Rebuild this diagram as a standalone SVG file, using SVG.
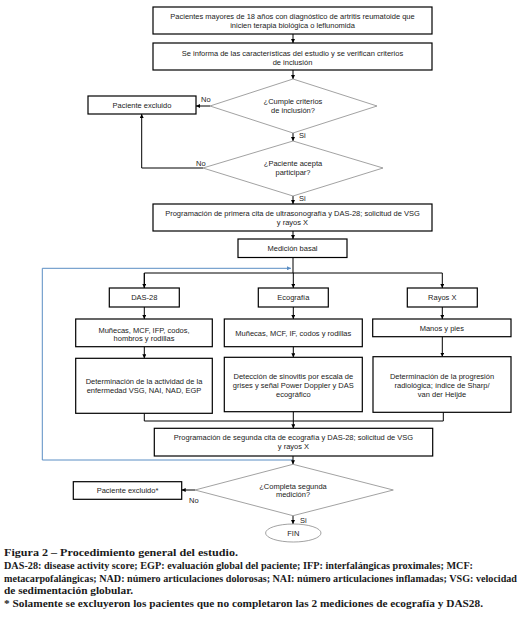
<svg xmlns="http://www.w3.org/2000/svg" width="521" height="628" viewBox="0 0 521 628">
<defs>
<marker id="ah" viewBox="0 0 10 10" refX="10" refY="5" markerWidth="4" markerHeight="4" orient="auto" markerUnits="userSpaceOnUse"><path d="M0,0 L10,5 L0,10 z" fill="#000"/></marker>
<marker id="ahb" viewBox="0 0 10 10" refX="10" refY="5" markerWidth="5" markerHeight="4" orient="auto" markerUnits="userSpaceOnUse"><path d="M0,0 L10,5 L0,10 z" fill="#5b8ec4"/></marker>
<style>
.box{fill:#fff;stroke:#000;stroke-width:1.2}
.dia{fill:#fff;stroke:#8a8a8a;stroke-width:0.8}
.t{font-family:"Liberation Sans",Arial,sans-serif;font-size:7.5px;fill:#222;text-anchor:middle}
.lbl{font-family:"Liberation Sans",Arial,sans-serif;font-size:7.5px;fill:#222}
.c{fill:none;stroke:#000;stroke-width:1}
.cb{fill:none;stroke:#5b8ec4;stroke-width:1}
.cap{font-family:"Liberation Serif","Times New Roman",serif;font-size:10px;font-weight:bold;fill:#1a1a1a}
</style>
</defs>
<rect width="521" height="628" fill="#fff"/>

<g id="connectors">
<path class="c" d="M293,34 V43" marker-end="url(#ah)"/>
<path class="c" d="M293,70 V79" marker-end="url(#ah)"/>
<path class="c" d="M210,106 H196" marker-end="url(#ah)"/>
<path class="c" d="M293,133 V141" marker-end="url(#ah)"/>
<path class="c" d="M203,168 H141.7 V114" marker-end="url(#ah)"/>
<path class="c" d="M293,196 V204" marker-end="url(#ah)"/>
<path class="c" d="M293,231 V239" marker-end="url(#ah)"/>
<path class="c" d="M293,257.5 V273"/>
<path class="c" d="M144.3,288 V273 H442.3 V288" marker-end="url(#ah)"/>
<path class="c" d="M144.3,273 V288" marker-end="url(#ah)"/>
<path class="c" d="M293.3,273 V288" marker-end="url(#ah)"/>
<path class="c" d="M144.3,307 V319" marker-end="url(#ah)"/>
<path class="c" d="M293.3,307 V319" marker-end="url(#ah)"/>
<path class="c" d="M442.3,307 V319" marker-end="url(#ah)"/>
<path class="c" d="M144.3,346.7 V358.3" marker-end="url(#ah)"/>
<path class="c" d="M293.3,346.7 V357.3" marker-end="url(#ah)"/>
<path class="c" d="M442.3,336.7 V356.7" marker-end="url(#ah)"/>
<path class="c" d="M144.3,413.3 V421 H443.3 V412.3"/>
<path class="c" d="M293.3,411.7 V428.3" marker-end="url(#ah)"/>
<path class="cb" d="M293,460 H42.3 V268.3 H291" marker-end="url(#ahb)"/>
<path class="c" d="M293,456 V464.3" marker-end="url(#ah)"/>
<path class="c" d="M195,490 H181.7" marker-end="url(#ah)"/>
<path class="c" d="M293,515.7 V524" marker-end="url(#ah)"/>
<text class="lbl" x="201" y="102">No</text>
<text class="lbl" x="299" y="138">Si</text>
<text class="lbl" x="196" y="165.5">No</text>
<text class="lbl" x="299" y="201">Si</text>
<text class="lbl" x="189" y="502.5">No</text>
<text class="lbl" x="300" y="522.5">Si</text>
</g>

<g id="n1"><rect class="box" x="153" y="7" width="279" height="27"/>
<text class="t" x="292.5" y="18.5">Pacientes mayores de 18 años con diagnóstico de artritis reumatoide que</text>
<text class="t" x="292.5" y="27.5">inicien terapia biológica o leflunomida</text></g>

<g id="n2"><rect class="box" x="153" y="43" width="279" height="27"/>
<text class="t" x="292.5" y="55.5">Se informa de las características del estudio y se verifican criterios</text>
<text class="t" x="292.5" y="64.5">de inclusión</text></g>

<g id="d1"><polygon class="dia" points="293,79 377,106 293,133 210,106"/>
<text class="t" x="293" y="104">¿Cumple criterios</text>
<text class="t" x="293" y="113">de inclusión?</text></g>

<g id="ex1"><rect class="box" x="88" y="96" width="108" height="18"/>
<text class="t" x="142" y="107.7">Paciente excluido</text></g>

<g id="d2"><polygon class="dia" points="293,141 383,168 293,196 203,168"/>
<text class="t" x="293" y="165.5">¿Paciente acepta</text>
<text class="t" x="293" y="174.5">participar?</text></g>

<g id="n3"><rect class="box" x="153" y="204" width="279" height="27"/>
<text class="t" x="292.5" y="215.5">Programación de primera cita de ultrasonografía y DAS-28; solicitud de VSG</text>
<text class="t" x="292.5" y="224.5">y rayos X</text></g>

<g id="n4"><rect class="box" x="238" y="239" width="109" height="18.5"/>
<text class="t" x="292.5" y="251">Medición basal</text></g>

<g id="das"><rect class="box" x="109.3" y="288" width="70" height="19"/>
<text class="t" x="144.3" y="300.2">DAS-28</text></g>
<g id="eco"><rect class="box" x="258.3" y="288" width="70" height="19"/>
<text class="t" x="293.3" y="300.2">Ecografía</text></g>
<g id="rx"><rect class="box" x="407.3" y="288" width="70" height="19"/>
<text class="t" x="442.3" y="300.2">Rayos X</text></g>

<g id="das2"><rect class="box" x="75.7" y="319" width="136.6" height="27.7"/>
<text class="t" x="144" y="332.5">Muñecas, MCF, IFP, codos,</text>
<text class="t" x="144" y="341">hombros y rodillas</text></g>
<g id="eco2"><rect class="box" x="224.3" y="319" width="138" height="27.7"/>
<text class="t" x="293.3" y="335.8">Muñecas, MCF, IF, codos y rodillas</text></g>
<g id="rx2"><rect class="box" x="372.7" y="319" width="138.3" height="17.7"/>
<text class="t" x="441.8" y="330.7">Manos y pies</text></g>

<g id="das3"><rect class="box" x="75.7" y="358.3" width="136.6" height="55"/>
<text class="t" x="144" y="384">Determinación de la actividad de la</text>
<text class="t" x="144" y="392.5">enfermedad VSG, NAI, NAD, EGP</text></g>
<g id="eco3"><rect class="box" x="224.3" y="357.3" width="138" height="54.4"/>
<text class="t" x="293.3" y="378.5">Detección de sinovitis por escala de</text>
<text class="t" x="293.3" y="387.5">grises y señal Power Doppler y DAS</text>
<text class="t" x="293.3" y="396.5">ecográfico</text></g>
<g id="rx3"><rect class="box" x="373" y="356.7" width="138" height="55.6"/>
<text class="t" x="442" y="379">Determinación de la progresión</text>
<text class="t" x="442" y="388">radiológica; índice de Sharp/</text>
<text class="t" x="442" y="397">van der Heijde</text></g>

<g id="n5"><rect class="box" x="154.3" y="428.3" width="278.4" height="27.7"/>
<text class="t" x="293.5" y="440">Programación de segunda cita de ecografía y DAS-28; solicitud de VSG</text>
<text class="t" x="293.5" y="449">y rayos X</text></g>

<g id="d3"><polygon class="dia" points="293,464.3 393.3,490 293,515.7 195,490"/>
<text class="t" x="293" y="488.5">¿Completa segunda</text>
<text class="t" x="293" y="497">medición?</text></g>

<g id="ex2"><rect class="box" x="73.3" y="481.7" width="108.4" height="17.6"/>
<text class="t" x="127.5" y="493">Paciente excluido*</text></g>

<g id="fin"><ellipse class="dia" cx="293.3" cy="533" rx="27.7" ry="9"/>
<text class="t" x="293.3" y="535.7">FIN</text></g>

<g id="caption">
<text class="cap" x="4" y="556" textLength="234" lengthAdjust="spacingAndGlyphs">Figura 2 – Procedimiento general del estudio.</text>
<text class="cap" x="4" y="569" textLength="469" lengthAdjust="spacingAndGlyphs">DAS-28: disease activity score; EGP: evaluación global del paciente; IFP: interfalángicas proximales; MCF:</text>
<text class="cap" x="4" y="582" textLength="513" lengthAdjust="spacingAndGlyphs">metacarpofalángicas; NAD: número articulaciones dolorosas; NAI: número articulaciones inflamadas; VSG: velocidad</text>
<text class="cap" x="4" y="594" textLength="129" lengthAdjust="spacingAndGlyphs">de sedimentación globular.</text>
<text class="cap" x="4" y="607" textLength="479" lengthAdjust="spacingAndGlyphs">* Solamente se excluyeron los pacientes que no completaron las 2 mediciones de ecografía y DAS28.</text>
</g>
</svg>
